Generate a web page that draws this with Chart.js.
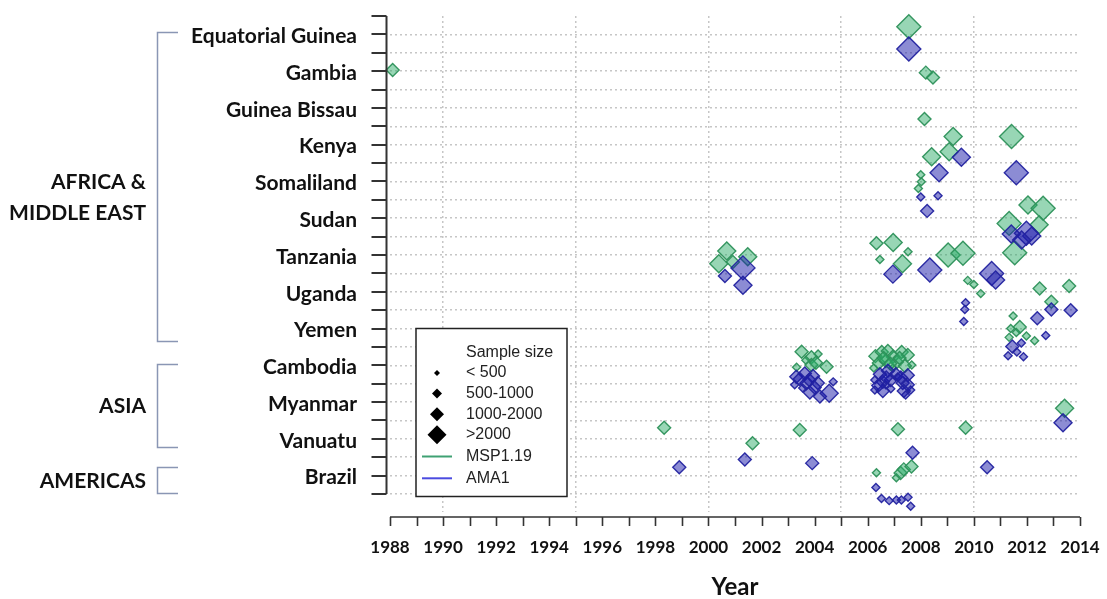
<!DOCTYPE html>
<html>
<head>
<meta charset="utf-8">
<script src="https://cdn.jsdelivr.net/npm/chart.js@4.4.1/dist/chart.umd.min.js"></script>
<style>
  html, body { margin: 0; padding: 0; background: #fff; }
  #wrap { width: 1107px; height: 599px; position: relative; }
</style>
</head>
<body>
<div id="wrap"><canvas id="c" width="1107" height="599"></canvas></div>
<script>
// Countries, top to bottom; row i of the y scale belongs to countries[i]
const countries = ['Equatorial Guinea', 'Gambia', 'Guinea Bissau', 'Kenya', 'Somaliland',
  'Sudan', 'Tanzania', 'Uganda', 'Yemen', 'Cambodia', 'Myanmar', 'Vanuatu', 'Brazil'];

const regions = [
  { label: ['AFRICA &', 'MIDDLE EAST'], first: 'Equatorial Guinea', last: 'Yemen' },
  { label: ['ASIA'], first: 'Cambodia', last: 'Vanuatu' },
  { label: ['AMERICAS'], first: 'Brazil', last: 'Brazil' }
];

const sizeClasses = ['< 500', '500-1000', '1000-2000', '>2000'];
const yearRange = [1988, 2014];

// Surveys: [year, row (country index plus jitter), sample size class]
const msp119 = [
  [2007.55, -0.21, 3],
  [1988.10, 0.97, 1], [2008.19, 1.04, 1], [2008.46, 1.17, 1],
  [2008.14, 2.30, 1],
  [2009.22, 2.78, 2], [2009.07, 3.19, 2], [2008.41, 3.33, 2], [2011.42, 2.78, 3],
  [2008.00, 3.82, 0], [2008.02, 4.01, 0], [2007.91, 4.19, 0],
  [2012.04, 4.64, 2], [2012.61, 4.73, 3], [2011.33, 5.14, 3], [2012.46, 5.18, 2],
  [2011.54, 5.94, 3],
  [2000.69, 5.89, 2], [2000.39, 6.24, 2], [2001.48, 6.05, 2], [2000.92, 6.19, 1],
  [2006.33, 5.68, 1], [2006.96, 5.66, 2], [2007.52, 5.91, 0], [2006.46, 6.12, 0],
  [2007.31, 6.24, 2], [2009.03, 6.00, 3], [2009.59, 5.95, 3],
  [2009.77, 6.69, 0], [2010.00, 6.80, 0], [2010.26, 7.05, 0],
  [2013.59, 6.84, 1], [2012.48, 6.91, 1], [2012.92, 7.27, 1],
  [2011.48, 7.66, 0], [2011.39, 8.00, 0], [2011.73, 7.96, 1], [2011.98, 8.20, 0],
  [2012.29, 8.33, 0], [2011.33, 8.24, 0], [2011.60, 8.11, 0],
  [2003.51, 8.63, 1], [2003.88, 8.78, 1], [2004.13, 8.69, 0], [2004.45, 9.04, 1],
  [2003.32, 9.05, 0], [2003.88, 8.99, 1], [2003.67, 8.86, 0], [2004.05, 8.93, 1],
  [2006.29, 8.75, 1], [2006.53, 8.64, 1], [2006.76, 8.61, 1], [2006.95, 8.77, 1],
  [2006.42, 8.94, 1], [2006.68, 8.88, 1], [2007.28, 8.64, 1], [2007.51, 8.72, 1],
  [2007.10, 8.91, 1], [2007.66, 8.99, 0], [2007.40, 9.02, 1], [2006.23, 9.07, 0],
  [2006.95, 9.07, 0], [2006.60, 8.80, 1], [2007.20, 8.80, 1], [2006.85, 8.95, 1],
  [2013.42, 10.17, 2],
  [1998.33, 10.70, 1], [2003.44, 10.76, 1], [2007.14, 10.74, 1], [2009.69, 10.70, 1],
  [2001.66, 11.12, 1],
  [2006.33, 11.92, 0], [2007.08, 12.06, 0], [2007.24, 11.93, 1], [2007.36, 11.83, 1],
  [2007.65, 11.75, 1]
];

const ama1 = [
  [2007.55, 0.40, 3],
  [2009.53, 3.34, 2], [2008.69, 3.76, 2], [2011.60, 3.76, 3],
  [2008.00, 4.42, 0], [2008.65, 4.39, 0], [2008.24, 4.80, 1],
  [2011.41, 5.43, 2], [2011.98, 5.41, 3], [2012.18, 5.48, 2], [2011.80, 5.59, 2],
  [2001.30, 6.35, 3], [2000.62, 6.57, 1], [2001.30, 6.82, 2],
  [2006.95, 6.52, 2], [2008.34, 6.41, 3], [2010.67, 6.50, 3], [2010.82, 6.68, 2],
  [2009.69, 7.30, 0], [2009.66, 7.48, 0], [2009.62, 7.81, 0],
  [2012.92, 7.48, 1], [2013.65, 7.50, 1], [2012.39, 7.72, 1], [2012.71, 8.19, 0],
  [2011.45, 8.49, 1], [2011.79, 8.39, 0], [2011.29, 8.74, 0], [2011.87, 8.77, 0],
  [2011.62, 8.64, 0],
  [2003.31, 9.31, 1], [2003.63, 9.22, 1], [2003.94, 9.29, 1], [2003.25, 9.53, 0],
  [2003.69, 9.49, 1], [2003.82, 9.74, 1], [2004.20, 9.85, 1], [2004.55, 9.76, 2],
  [2004.70, 9.45, 0], [2003.55, 9.62, 0], [2004.12, 9.48, 1], [2003.44, 9.37, 1],
  [2003.80, 9.40, 1], [2004.00, 9.60, 1],
  [2006.46, 9.24, 1], [2006.76, 9.15, 1], [2007.06, 9.24, 1], [2007.51, 9.27, 1],
  [2006.57, 9.45, 1], [2006.87, 9.40, 1], [2007.32, 9.48, 1], [2007.51, 9.53, 1],
  [2006.27, 9.67, 0], [2006.57, 9.70, 1], [2006.87, 9.64, 0], [2007.36, 9.70, 1],
  [2007.62, 9.67, 0], [2007.13, 9.32, 0], [2006.68, 9.53, 0], [2007.43, 9.81, 0],
  [2006.27, 9.40, 0], [2006.70, 9.33, 1], [2007.25, 9.33, 1], [2006.40, 9.55, 1],
  [2013.36, 10.56, 2],
  [1998.90, 11.77, 1], [2001.37, 11.56, 1], [2003.91, 11.66, 1], [2007.69, 11.38, 1],
  [2010.50, 11.77, 1],
  [2006.31, 12.32, 0], [2006.52, 12.62, 0], [2006.81, 12.68, 0], [2007.08, 12.66, 0],
  [2007.27, 12.66, 0], [2007.52, 12.59, 0], [2007.62, 12.83, 0]
];

// ---- styling ----
const markerRadius = [4, 6.5, 9, 12];
const legendRadius = [3, 5, 7, 9.5];
const COLORS = {
  msp: { fill: 'rgba(40,170,100,0.48)', line: 'rgba(45,145,90,0.95)', key: '#3fa173' },
  ama: { fill: 'rgba(25,25,170,0.5)', line: 'rgba(35,35,160,0.95)', key: '#4b4be0' },
  grid: '#c6c6c6', axis: '#333', bracket: '#8a96b4', text: '#111'
};
const LABEL_FONT = 'Lato, "Open Sans", sans-serif';
const ROW_MIN = -0.5, ROW_MAX = countries.length - 0.5;

const toPoints = list => list.map(([x, y, s]) => ({ x, y, s }));
const radiusOf = c => (c.raw ? markerRadius[c.raw.s] : 6);

function series(label, list, col, order) {
  return {
    label, order,
    data: toPoints(list),
    pointStyle: 'rectRot',
    pointRadius: radiusOf,
    pointHoverRadius: radiusOf,
    backgroundColor: col.fill,
    borderColor: col.line,
    pointBorderWidth: 1.4,
    clip: false
  };
}

const frame = {
  id: 'frame',
  afterDatasetsDraw(chart) {
    const { ctx, chartArea: a, scales: { x, y } } = chart;
    const rowY = r => y.getPixelForValue(r);
    ctx.save();

    // detached y axis with tick marks every half row
    const ax = a.left - 3.5;
    ctx.strokeStyle = COLORS.axis;
    ctx.lineWidth = 2;
    ctx.beginPath();
    ctx.moveTo(ax, rowY(ROW_MIN));
    ctx.lineTo(ax, rowY(ROW_MAX));
    for (let v = ROW_MIN; v <= ROW_MAX + 1e-9; v += 0.5) {
      const py = Math.round(rowY(v));
      ctx.moveTo(ax - 15, py);
      ctx.lineTo(ax, py);
    }
    ctx.stroke();

    // detached x axis with a tick every year
    const ay = Math.round(rowY(ROW_MAX)) + 23;
    ctx.lineWidth = 1.6;
    ctx.beginPath();
    ctx.moveTo(x.getPixelForValue(yearRange[0]), ay);
    ctx.lineTo(x.getPixelForValue(yearRange[1]), ay);
    for (let yr = yearRange[0]; yr <= yearRange[1]; yr++) {
      const px = Math.round(x.getPixelForValue(yr)) + 0.5;
      ctx.moveTo(px, ay);
      ctx.lineTo(px, ay + 9);
    }
    ctx.stroke();

    // sample size / antigen key
    const lx = a.left + 26, ly = a.top + 312.5, lw = 151, lh = 168;
    ctx.fillStyle = '#fff';
    ctx.fillRect(lx, ly, lw, lh);
    ctx.strokeStyle = '#222';
    ctx.lineWidth = 1.5;
    ctx.strokeRect(lx, ly, lw, lh);
    ctx.font = '16px "Liberation Sans", Arial, sans-serif';
    ctx.textBaseline = 'middle';
    ctx.textAlign = 'left';
    ctx.fillStyle = '#222';
    const tx = lx + 50, mx = lx + 21;
    ctx.fillText('Sample size', tx, ly + 24);
    sizeClasses.forEach((s, i) => {
      const cy = ly + 44.5 + i * 20.6;
      ctx.fillStyle = '#000';
      ctx.beginPath();
      const r = legendRadius[i];
      ctx.moveTo(mx - r, cy); ctx.lineTo(mx, cy - r); ctx.lineTo(mx + r, cy); ctx.lineTo(mx, cy + r);
      ctx.closePath();
      ctx.fill();
      ctx.fillStyle = '#222';
      ctx.fillText(s, tx, cy);
    });
    [['MSP1.19', COLORS.msp.key], ['AMA1', COLORS.ama.key]].forEach(([name, col], i) => {
      const cy = ly + 128 + i * 21.8;
      ctx.strokeStyle = col;
      ctx.lineWidth = 2;
      ctx.beginPath();
      ctx.moveTo(lx + 6, cy); ctx.lineTo(lx + 36, cy);
      ctx.stroke();
      ctx.fillStyle = '#222';
      ctx.fillText(name, tx, cy);
    });

    // region brackets and names
    const bracketPad = [[0.06, 0.33], [0.03, 0.23], [0.23, 0.46]];
    const labelRow = [4.45, 10.11, 12.16];
    ctx.strokeStyle = COLORS.bracket;
    ctx.lineWidth = 1.5;
    ctx.fillStyle = COLORS.text;
    ctx.font = 'bold 21px ' + LABEL_FONT;
    ctx.textAlign = 'right';
    regions.forEach((g, i) => {
      const y0 = Math.round(rowY(countries.indexOf(g.first) - bracketPad[i][0])) + 0.5;
      const y1 = Math.round(rowY(countries.indexOf(g.last) + bracketPad[i][1])) + 0.5;
      ctx.beginPath();
      ctx.moveTo(178, y0); ctx.lineTo(157.5, y0); ctx.lineTo(157.5, y1); ctx.lineTo(178, y1);
      ctx.stroke();
      const cy = rowY(labelRow[i]);
      const n = g.label.length;
      g.label.forEach((t, k) => {
        ctx.fillText(t, 146, cy + (k - (n - 1) / 2) * 30.6);
      });
    });
    ctx.restore();
  }
};

new Chart(document.getElementById('c'), {
  type: 'scatter',
  data: {
    datasets: [
      series('MSP1.19', msp119, COLORS.msp, 1),
      series('AMA1', ama1, COLORS.ama, 0)
    ]
  },
  options: {
    responsive: false,
    animation: false,
    events: [],
    layout: { autoPadding: false, padding: { top: 16, right: 27, bottom: 0, left: 0 } },
    plugins: { legend: { display: false }, tooltip: { enabled: false } },
    scales: {
      x: {
        type: 'linear',
        min: yearRange[0], max: yearRange[1],
        afterFit: s => { s.height = 86.6; s.paddingLeft = 0; s.paddingRight = 0; },
        ticks: {
          stepSize: 1, autoSkip: false, maxRotation: 0, padding: 25,
          color: COLORS.text,
          font: { family: LABEL_FONT, size: 17, weight: 'bold' },
          callback: v => (Math.round(v) % 2 === 0 ? String(Math.round(v)) : '')
        },
        grid: {
          drawTicks: false,
          lineWidth: 1.5,
          color: c => (c.tick && Math.round(c.tick.value) % 5 === 0 ? COLORS.grid : 'rgba(0,0,0,0)')
        },
        border: { display: false, dash: [2, 3] },
        title: {
          display: true, text: 'Year', color: COLORS.text,
          font: { family: LABEL_FONT, size: 24, weight: 'bold', lineHeight: 1 },
          padding: { top: 0, bottom: 0 }
        }
      },
      y: {
        type: 'linear',
        reverse: true,
        // half a row of room below the last tick so the lowest markers stay visible
        min: ROW_MIN, max: ROW_MAX + 0.5,
        afterFit: s => { s.width = 390; s.paddingTop = 0; s.paddingBottom = 0; },
        ticks: {
          stepSize: 0.5, autoSkip: false, padding: 33, labelOffset: 2,
          color: COLORS.text,
          font: { family: LABEL_FONT, size: 21, weight: 'bold' },
          callback: v => {
            const i = Math.round(v);
            return Math.abs(v - i) < 1e-6 && countries[i] ? countries[i] : '';
          }
        },
        grid: {
          drawTicks: false,
          lineWidth: 1.5,
          color: c => (c.tick && c.tick.value > ROW_MIN + 0.01 && c.tick.value < ROW_MAX + 0.01
            ? COLORS.grid : 'rgba(0,0,0,0)')
        },
        border: { display: false, dash: [2, 3] }
      }
    }
  },
  plugins: [frame]
});
</script>
</body>
</html>
